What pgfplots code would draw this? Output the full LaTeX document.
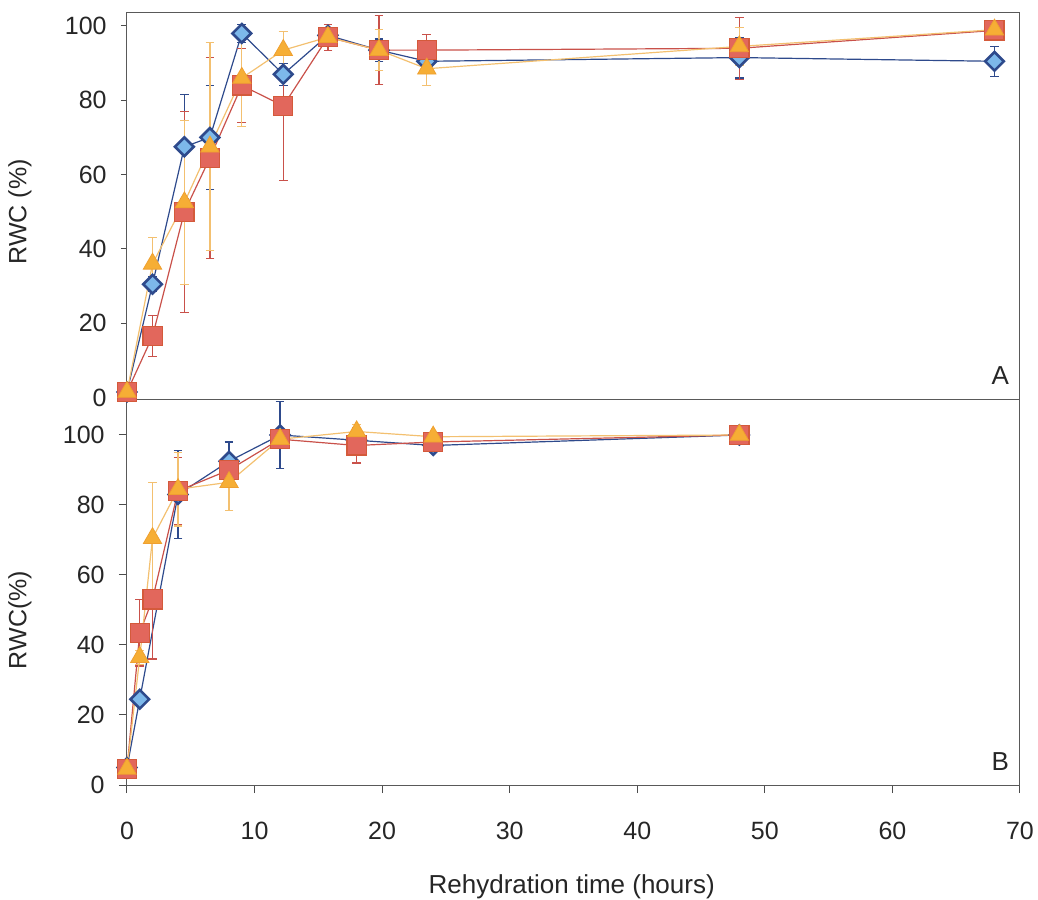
\documentclass[border=0pt]{standalone}
\usepackage{pgfplots}
\pgfplotsset{compat=1.18}
\usepackage{pgfplotstable}
\usepackage{fontspec}
\setmainfont{Liberation Sans}
\definecolor{bline}{HTML}{2E4A8C}
\definecolor{bfill}{HTML}{7DB8EA}
\definecolor{rline}{HTML}{C9514A}
\definecolor{rfill}{HTML}{E2675C}
\definecolor{oline}{HTML}{F3C070}
\definecolor{ofill}{HTML}{F6AE35}
\definecolor{oedge}{HTML}{EFA030}

% Panel A
\pgfplotstableread{
x y e
0 1.5 0
2 30.5 2
4.5 67.5 14
6.5 70 14
9 98 2.5
12.25 87 3
15.75 97.5 2
19.75 93.5 3
23.5 90.5 2
48 91.5 5.5
68 90.5 4
}\Ablue
\pgfplotstableread{
x y e
0 1.5 0
2 16.5 5.5
4.5 50 27
6.5 64.5 27
9 84 10
12.25 78.5 20
15.75 97 3.5
19.75 93.5 9.3
23.5 93.5 4.3
48 94 8.3
68 98.8 2
}\Ared
\pgfplotstableread{
x y e
0 1.5 0
2 36 7
4.5 52.5 22
6.5 67.5 28
9 86 13
12.25 93.5 5
15.75 97 2
19.75 93.5 5.5
23.5 88.5 4.5
48 94.5 5
68 99 2
}\Aorange
% Panel B
\pgfplotstableread{
x y e
0 5 0
1 24.5 1.5
4 83 12.5
8 92.5 5.5
12 100 9.5
18 98.5 2
24 97 1.5
48 100 0
}\Bblue
\pgfplotstableread{
x y e
0 4.6 0
1 43.5 9.5
2 53 17
4 84 9.5
8 90 3
12 98.8 2
18 97 5
24 98 1
48 100 0
}\Bred
\pgfplotstableread{
x y e
0 4.6 0
1 36.5 2
2 70.5 16
4 84.5 10.5
8 86.5 8
12 98.8 2
18 101 2
24 99.5 1
48 100 0
}\Borange

\pgfplotsset{
  panel/.style={
    width=446.5pt, scale only axis, xmin=0, xmax=70, clip=false,
    axis line style={gray!70!black, line width=0.5pt},
    tick style={gray!60!black, line width=0.5pt},
    tick align=outside,
    ytick={0,20,...,100}, ytick pos=left,
    yticklabel style={anchor=east, inner sep=0pt, xshift=-7pt},
    /pgf/number format/assume math mode=true,
    tick label style={font=\fontsize{12.5}{15}\selectfont, text=black!85},
    every axis y label/.style={rotate=90, anchor=center, font=\fontsize{12.5}{15}\selectfont, text=black!85},
    error bars/y dir=both, error bars/y explicit,
    error bars/error mark options={rotate=90, mark size=2.2pt, line width=0.5pt},
  },
  serd/.style={color=bline, line width=0.6pt, mark=square*, mark size=3.3pt,
    mark options={rotate=45, fill=bfill, draw=bline, line width=1.3pt},
    error bars/error bar style={bline, line width=0.6pt},
    error bars/error mark options={rotate=90, mark size=2.2pt, line width=0.6pt, bline}},
  sers/.style={color=rline, line width=0.6pt, mark=square*, mark size=4.8pt,
    mark options={fill=rfill, draw=rline!80!orange, line width=0.6pt},
    error bars/error bar style={rline, line width=0.6pt},
    error bars/error mark options={rotate=90, mark size=2.2pt, line width=0.6pt, rline}},
  sert/.style={color=oline, line width=0.6pt, mark=triangle*, mark size=5.3pt,
    mark options={fill=ofill, draw=oedge, line width=0.4pt},
    error bars/error bar style={oline, line width=0.6pt},
    error bars/error mark options={rotate=90, mark size=2.2pt, line width=0.6pt, oline}},
}

\begin{document}
\begin{tikzpicture}
\path[use as bounding box] (-63.5pt,-57pt) rectangle (455.5pt,392.5pt);
% bottom panel B
\begin{axis}[panel, name=bot, at={(0,0)}, anchor=south west,
  height=192.5pt, ymin=0, ymax=110,
  xtick={0,10,...,70}, xtick pos=bottom,
  major tick length=4pt,
  xticklabel style={anchor=north, inner sep=0pt, yshift=-14.5pt},
  ylabel={RWC(\%)},
  ylabel style={at={(axis description cs:-0.1198,0.4286)}},
  xlabel={Rehydration time (hours)},
  xlabel style={at={(axis description cs:0.498,-0.265)}, anchor=center, font=\fontsize{13}{15}\selectfont, text=black!85},
]
\addplot[serd] table[x=x, y=y, y error=e] {\Bblue};
\addplot[sers] table[x=x, y=y, y error=e] {\Bred};
\addplot[sert] table[x=x, y=y, y error=e] {\Borange};
\node[font=\fontsize{13}{15}\selectfont, text=black!85] at (axis description cs:0.978,0.06) {B};
\end{axis}
% top panel A
\begin{axis}[panel, name=top, at={(0,192.5pt)}, anchor=south west,
  height=193.5pt, ymin=-0.65, ymax=103.5,
  xtick=\empty, major tick length=3pt,
  ylabel={RWC (\%)},
  ylabel style={at={(axis description cs:-0.1198,0.486)}},
]
\addplot[serd] table[x=x, y=y, y error=e] {\Ablue};
\addplot[sers] table[x=x, y=y, y error=e] {\Ared};
\addplot[sert] table[x=x, y=y, y error=e] {\Aorange};
\node[font=\fontsize{13}{15}\selectfont, text=black!85] at (axis description cs:0.978,0.062) {A};
\end{axis}
\end{tikzpicture}
\end{document}
